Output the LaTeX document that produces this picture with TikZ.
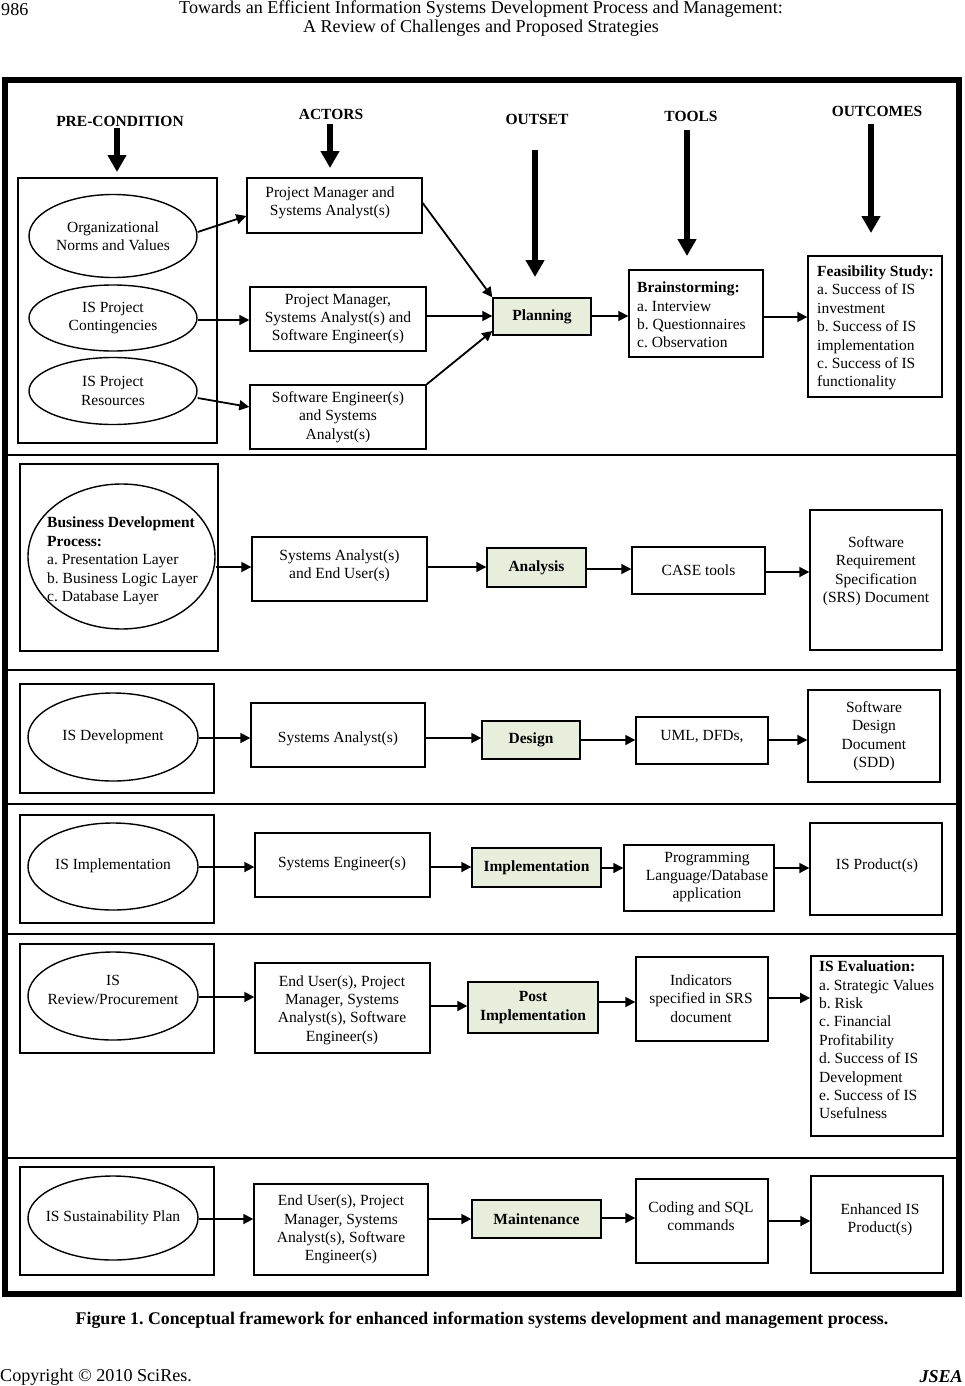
\documentclass[tikz,border=0pt]{standalone}
\usepackage{fontspec}
\setmainfont{Liberation Serif}
\usetikzlibrary{arrows.meta,shapes.geometric}
\definecolor{phasegreen}{RGB}{232,238,220}
\newcommand\tx{\fontsize{15.5}{18.4}\selectfont}
\newcommand\hd{\fontsize{18.1}{19}\selectfont}
\newcommand\cp{\fontsize{17.8}{19}\selectfont}
\frenchspacing
\begin{document}
\begin{tikzpicture}[x=1pt,y=-1pt,
  box/.style={draw,line width=1.4pt,inner sep=0pt,align=center,font=\tx},
  grp/.style={draw,line width=1.6pt},
  ell/.style={draw,ellipse,line width=1.4pt,inner sep=0pt},
  txt/.style={inner sep=0pt,align=center,font=\tx},
  ltxt/.style={inner sep=0pt,align=left,font=\tx},
  phase/.style={box,fill=phasegreen,font=\tx\bfseries},
  hdr/.style={inner sep=0pt,font=\tx\bfseries},
  arr/.style={-{Triangle[length=10pt,width=10pt]},line width=1.8pt},
  bigarr/.style={-{Triangle[length=17pt,width=18pt]},line width=6.5pt},
  sep/.style={line width=1.5pt}]
\useasboundingbox (0,0) rectangle (964,1386);
\fill[white] (0,0) rectangle (964,1386);

% page header / footer
\node[inner sep=0pt,anchor=west,font=\hd] (pnum) at (1,10) {986};
\node[inner sep=0pt,align=center,font=\hd] (title) at (481,19)
  {Towards an Efficient Information Systems Development Process and Management:\\A Review of Challenges and Proposed Strategies};
\node[inner sep=0pt,font=\cp\bfseries] (cap) at (482,1320)
  {Figure 1.\ Conceptual framework for enhanced information systems development and management process.};
\node[inner sep=0pt,anchor=west,font=\hd] (copy) at (0,1377) {Copyright \textcopyright{} 2010 SciRes.};
\node[inner sep=0pt,anchor=east,font=\hd\bfseries\itshape] (jsea) at (963,1377) {JSEA};

% outer frame and separators
\draw[line width=6pt] (5,80) rectangle (959,1294);
\draw[sep] (5,455) -- (959,455);
\draw[sep] (5,670) -- (959,670);
\draw[sep] (5,804) -- (959,804);
\draw[sep] (5,934) -- (959,934);
\draw[sep] (5,1158) -- (959,1158);

% column headers
\node[hdr] (hpre) at (120,121) {PRE-CONDITION};
\node[hdr] (hact) at (331,114) {ACTORS};
\node[hdr] (hout) at (537,119) {OUTSET};
\node[hdr] (htool) at (691,116) {TOOLS};
\node[hdr] (houtc) at (877,111) {OUTCOMES};
\coordinate (spre) at (117,128);  \coordinate (tpre) at (117,172);
\coordinate (sact) at (330,124);  \coordinate (tact) at (330,168);
\coordinate (sout) at (535,150);  \coordinate (tout) at (535,277);
\coordinate (stool) at (687,130); \coordinate (ttool) at (687,256);
\coordinate (soutc) at (871,124); \coordinate (toutc) at (871,233);
\draw[bigarr] (spre) -- (tpre);
\draw[bigarr] (sact) -- (tact);
\draw[bigarr] (sout) -- (tout);
\draw[bigarr] (stool) -- (ttool);
\draw[bigarr] (soutc) -- (toutc);

% ===== Planning =====
\draw[grp] (18,178) rectangle (217,443);
\node[ell,minimum width=168pt,minimum height=83pt] (e1) at (113,236) {};
\node[txt] (e1t) at (113,236) {Organizational\\Norms and Values};
\node[ell,minimum width=168pt,minimum height=66pt] (e2) at (113,318) {};
\node[txt] (e2t) at (113,318) {IS Project\\Contingencies};
\node[ell,minimum width=168pt,minimum height=67pt] (e3) at (113,391) {};
\node[txt] (e3t) at (113,391) {IS Project\\Resources};
\node[box,minimum width=175pt,minimum height=55pt] (a1) at (334.5,205.5) {};
\node[txt] (a1t) at (330,203) {Project Manager and\\Systems Analyst(s)};
\node[box,minimum width=176pt,minimum height=64pt] (a2) at (338,319)
  {Project Manager,\\Systems Analyst(s) and\\Software Engineer(s)};
\node[box,minimum width=176pt,minimum height=64pt] (a3) at (338,417)
  {Software Engineer(s)\\and Systems\\Analyst(s)};
\node[phase,minimum width=98pt,minimum height=37pt] (plan) at (542,316.5) {Planning};
\node[box,minimum width=134pt,minimum height=87pt] (brain) at (696,313.5) {};
\node[ltxt,anchor=west] (braint) at (637,315) {\textbf{Brainstorming:}\\a. Interview\\b. Questionnaires\\c. Observation};
\node[box,minimum width=134pt,minimum height=141pt] (feas) at (875,326.5) {};
\node[ltxt,anchor=west] (feast) at (817,328) {\textbf{Feasibility Study:}\\a. Success of IS\\investment\\b. Success of IS\\implementation\\c. Success of IS\\functionality};
\draw[arr] (e1.east |- 0,232) -- (a1.west |- 0,216);
\draw[arr] (e2.east |- 0,320) -- (a2.west |- 0,320);
\draw[arr] (e3.east |- 0,398) -- (a3.west |- 0,407);
\draw[arr] (a1.east |- 0,203) -- (plan.north west);
\draw[arr] (a2.east |- 0,316) -- (plan.west |- 0,316);
\draw[arr] (a3.north east) -- (plan.west |- 0,331);
\draw[arr] (plan.east |- 0,316) -- (brain.west |- 0,316);
\draw[arr] (brain.east |- 0,317) -- (feas.west |- 0,317);

% ===== Analysis =====
\draw[grp] (20,464) rectangle (218,651);
\node[ell,minimum width=187pt,minimum height=145pt] (e4) at (121.5,556.5) {};
\node[ltxt,anchor=west] (e4t) at (47,561) {\textbf{Business Development}\\\textbf{Process:}\\a. Presentation Layer\\b. Business Logic Layer\\c. Database Layer};
\node[box,minimum width=175pt,minimum height=64pt] (a4) at (339.5,569) {};
\node[txt] (a4t) at (339.5,566) {Systems Analyst(s)\\and End User(s)};
\node[phase,minimum width=99pt,minimum height=39pt] (an) at (536.5,567.5) {Analysis};
\node[box,minimum width=133pt,minimum height=47pt] (case) at (698.5,570.5) {CASE tools};
\node[box,minimum width=132pt,minimum height=140pt] (srs) at (876,580) {};
\node[txt] (srst) at (876,571) {Software\\Requirement\\Specification\\(SRS) Document};
\draw[arr] (e4.east |- 0,567) -- (a4.west |- 0,567);
\draw[arr] (a4.east |- 0,567) -- (an.west |- 0,567);
\draw[arr] (an.east |- 0,569) -- (case.west |- 0,569);
\draw[arr] (case.east |- 0,572) -- (srs.west |- 0,572);

% ===== Design =====
\draw[grp] (20,684) rectangle (214,793);
\node[ell,minimum width=170pt,minimum height=88pt] (e5) at (113,737) {};
\node[txt] (e5t) at (113,737) {IS Development};
\node[box,minimum width=174pt,minimum height=64pt] (a5) at (338,735) {};
\node[txt] (a5t) at (338,739) {Systems Analyst(s)};
\node[phase,minimum width=98pt,minimum height=38pt] (des) at (531,740) {Design};
\node[box,minimum width=132pt,minimum height=47pt] (uml) at (702,740.5) {};
\node[txt] (umlt) at (702,737) {UML, DFDs,};
\node[box,minimum width=132pt,minimum height=92pt] (sdd) at (874,736)
  {Software\\Design\\Document\\(SDD)};
\draw[arr] (e5.east |- 0,738) -- (a5.west |- 0,738);
\draw[arr] (a5.east |- 0,738) -- (des.west |- 0,738);
\draw[arr] (des.east |- 0,740) -- (uml.west |- 0,740);
\draw[arr] (uml.east |- 0,740) -- (sdd.west |- 0,740);

% ===== Implementation =====
\draw[grp] (20,815) rectangle (214,923);
\node[ell,minimum width=170pt,minimum height=87pt] (e6) at (113,866.5) {};
\node[txt] (e6t) at (113,866) {IS Implementation};
\node[box,minimum width=175pt,minimum height=64pt] (a6) at (342.5,865) {};
\node[txt] (a6t) at (342,864) {Systems Engineer(s)};
\node[phase,minimum width=129pt,minimum height=39pt] (imp) at (536.5,867.5) {Implementation};
\node[box,minimum width=150pt,minimum height=66pt] (pl) at (699,878) {};
\node[txt] (plt) at (707,877) {Programming\\Language/Database\\application};
\node[box,minimum width=132pt,minimum height=92pt] (prod) at (876,869) {};
\node[txt] (prodt) at (877,866) {IS Product(s)};
\draw[arr] (e6.east |- 0,867) -- (a6.west |- 0,867);
\draw[arr] (a6.east |- 0,867) -- (imp.west |- 0,867);
\draw[arr] (imp.east |- 0,868) -- (pl.west |- 0,868);
\draw[arr] (pl.east |- 0,868) -- (prod.west |- 0,868);

% ===== Post Implementation =====
\draw[grp] (20,944) rectangle (214,1053);
\node[ell,minimum width=170pt,minimum height=88pt] (e7) at (113,996) {};
\node[txt] (e7t) at (113,990) {IS\\Review/Procurement};
\node[box,minimum width=175pt,minimum height=90pt] (a7) at (342.5,1008) {};
\node[txt] (a7t) at (342,1010) {End User(s), Project\\Manager, Systems\\Analyst(s), Software\\Engineer(s)};
\node[phase,minimum width=130pt,minimum height=51pt] (post) at (533,1007.5) {Post\\Implementation};
\node[box,minimum width=132pt,minimum height=84pt] (ind) at (702,999) {};
\node[txt] (indt) at (701,998.5) {Indicators\\specified in SRS\\document};
\node[box,minimum width=132pt,minimum height=180pt,line width=1.8pt] (eval) at (877,1046) {};
\node[ltxt,anchor=west] (evalt) at (819,1040) {\textbf{IS Evaluation:}\\a. Strategic Values\\b. Risk\\c. Financial\\Profitability\\d. Success of IS\\Development\\e. Success of IS\\Usefulness};
\draw[arr] (e7.east |- 0,997) -- (a7.west |- 0,997);
\draw[arr] (a7.east |- 0,1006) -- (post.west |- 0,1006);
\draw[arr] (post.east |- 0,1002) -- (ind.west |- 0,1002);
\draw[arr] (ind.east |- 0,998) -- (eval.west |- 0,998);

% ===== Maintenance =====
\draw[grp] (20,1167) rectangle (214,1275);
\node[ell,minimum width=170pt,minimum height=84pt] (e8) at (113,1218) {};
\node[txt] (e8t) at (113,1218) {IS Sustainability Plan};
\node[box,minimum width=174pt,minimum height=91pt] (a8) at (341,1229.5)
  {End User(s), Project\\Manager, Systems\\Analyst(s), Software\\Engineer(s)};
\node[phase,minimum width=129pt,minimum height=38pt] (mnt) at (536.5,1219) {Maintenance};
\node[box,minimum width=132pt,minimum height=84pt] (cod) at (702,1221) {};
\node[txt] (codt) at (701,1216) {Coding and SQL\\commands};
\node[box,minimum width=132pt,minimum height=97pt] (enh) at (877,1224.5) {};
\node[txt] (enht) at (880,1220) {Enhanced IS\\Product(s)};
\draw[arr] (e8.east |- 0,1219) -- (a8.west |- 0,1219);
\draw[arr] (a8.east |- 0,1219) -- (mnt.west |- 0,1219);
\draw[arr] (mnt.east |- 0,1218) -- (cod.west |- 0,1218);
\draw[arr] (cod.east |- 0,1221) -- (enh.west |- 0,1221);
\end{tikzpicture}
\end{document}
